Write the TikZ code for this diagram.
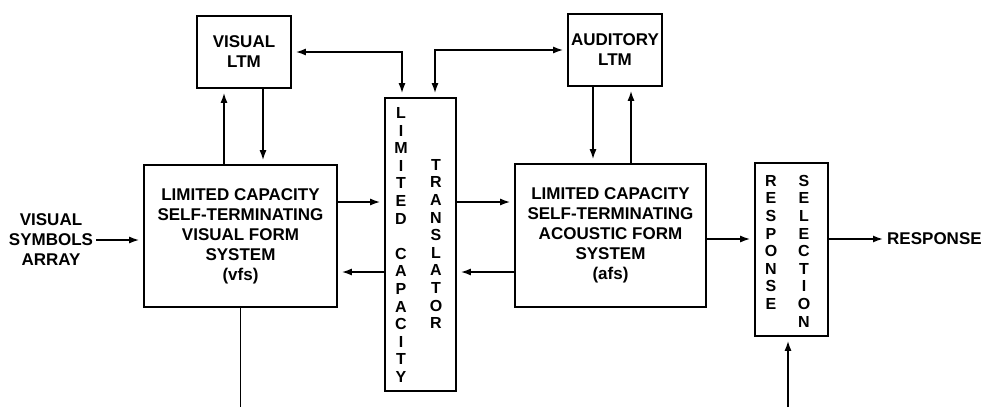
\documentclass[tikz,border=0pt]{standalone}
\usepackage{fontspec}
\setmainfont{Liberation Sans}
\usepackage{tikz}
\usetikzlibrary{arrows.meta}

\begin{document}
\begin{tikzpicture}[
  x=1pt,y=-1pt,
  font=\fontsize{17}{20}\selectfont\bfseries,
  box/.style={draw,line width=1.6pt,align=center,inner sep=0pt},
  column/.style={align=center,inner sep=0pt,font=\fontsize{16}{17.6}\selectfont\bfseries},
  label/.style={align=center,inner sep=0pt},
  flow/.style={-{Latex[length=10pt,width=7pt]},line width=1.6pt,shorten >=4pt},
  twoway/.style={{Latex[length=10pt,width=7pt]}-{Latex[length=10pt,width=7pt]},line width=1.6pt,shorten >=4pt,shorten <=4pt},
  plain/.style={line width=1.6pt}
]
\useasboundingbox (0,0) rectangle (984,407);

\node[box,minimum width=94pt,minimum height=72pt] (vltm) at (244,52) {VISUAL\\LTM};
\node[box,minimum width=94pt,minimum height=72pt] (altm) at (615,50) {AUDITORY\\LTM};
\node[box,minimum width=193pt,minimum height=142pt] (vfs) at (240.5,236) {LIMITED CAPACITY\\SELF-TERMINATING\\VISUAL FORM\\SYSTEM\\(vfs)};
\node[box,minimum width=191pt,minimum height=143pt] (afs) at (610.5,235.5) {LIMITED CAPACITY\\SELF-TERMINATING\\ACOUSTIC FORM\\SYSTEM\\(afs)};

\node[box,minimum width=71pt,minimum height=293pt] (trans) at (420.5,244.5) {};
\node[column] (limcap) at (401,245) {L\\I\\M\\I\\T\\E\\D\\[17.6pt]C\\A\\P\\A\\C\\I\\T\\Y};
\node[column] (translator) at (436,244) {T\\R\\A\\N\\S\\L\\A\\T\\O\\R};

\node[box,minimum width=73pt,minimum height=173pt] (resp) at (791.5,249.5) {};
\node[column,anchor=north] (response) at (771,175) {R\\E\\S\\P\\O\\N\\S\\E};
\node[column,anchor=north] (selection) at (804,175) {S\\E\\L\\E\\C\\T\\I\\O\\N};

\node[label] (input) at (51,240) {VISUAL\\SYMBOLS\\ARRAY};
\node[label,anchor=west] (output) at (887,239) {RESPONSE};

\coordinate (rowA) at (0,202);
\coordinate (rowB) at (0,272);
\coordinate (rowC) at (0,239);
\coordinate (vfsout) at (240.5,407);
\coordinate (respin) at (788,407);

% input side
\draw[flow,shorten <=3pt] (input.east) -- (vfs.west |- input.east);

% visual form system and its store
\draw[flow] ([xshift=-20pt]vltm.south |- vfs.north) -- ([xshift=-20pt]vltm.south);
\draw[flow] ([xshift=19pt]vltm.south) -- ([xshift=19pt]vltm.south |- vfs.north);

% acoustic form system and its store
\draw[flow] ([xshift=-22pt]altm.south) -- ([xshift=-22pt]altm.south |- afs.north);
\draw[flow] ([xshift=16pt]altm.south |- afs.north) -- ([xshift=16pt]altm.south);

% translator links
\draw[twoway] (vltm.east) -| ([xshift=-18.5pt]trans.north);
\draw[twoway] ([xshift=14.5pt]trans.north) |- (altm.west);
\draw[flow] (vfs.east |- rowA) -- (trans.west |- rowA);
\draw[flow] (trans.west |- rowB) -- (vfs.east |- rowB);
\draw[flow] (trans.east |- rowA) -- (afs.west |- rowA);
\draw[flow] (afs.west |- rowB) -- (trans.east |- rowB);

% response side
\draw[flow] (afs.east |- rowC) -- (resp.west |- rowC);
\draw[flow] (resp.east |- rowC) -- (output.west);
\draw[plain] (vfs.south) -- (vfsout);
\draw[flow] (respin) -- (resp.south -| respin);
\end{tikzpicture}
\end{document}
